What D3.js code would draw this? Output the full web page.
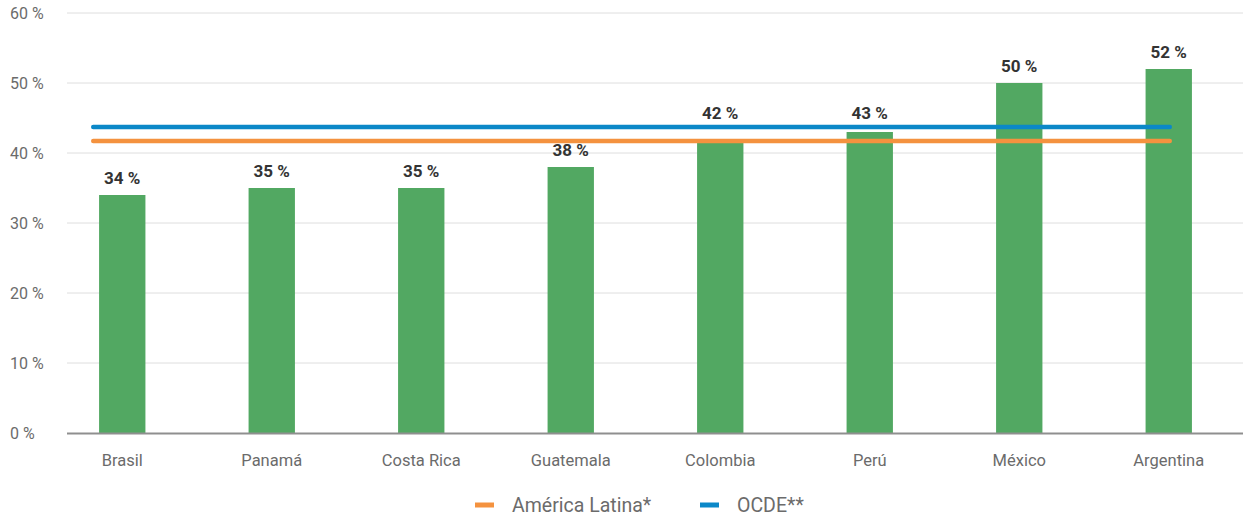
<!DOCTYPE html>
<html>
<head>
<meta charset="utf-8">
<script src="https://cdn.jsdelivr.net/npm/d3@7"></script>
<style>
  html, body { margin: 0; padding: 0; background: #fff; }
  svg { display: block; font-family: "Roboto", "DejaVu Sans", sans-serif; }
</style>
</head>
<body>
<svg id="chart" width="1243" height="517"></svg>
<script>
// Country shares (%)
const countries = ["Brasil", "Panamá", "Costa Rica", "Guatemala", "Colombia", "Perú", "México", "Argentina"];
const values = [34, 35, 35, 38, 42, 43, 50, 52];

// Reference averages (%)
const refNames = ["América Latina*", "OCDE**"];
const refValues = [41.7, 43.7];
const refColors = ["#f4923f", "#0b88c8"];

const yTicks = [0, 10, 20, 30, 40, 50, 60];

const svg = d3.select("#chart");
const gridLeft = 67, gridRight = 1243;
const yTop = 13, yBottom = 433;

const x = d3.scaleBand().domain(countries).range([47.5, 1243.5]).paddingInner(0.69).paddingOuter(0.345);
const y = d3.scaleLinear().domain([0, 60]).range([yBottom, yTop]);

// Horizontal gridlines
svg.append("g").selectAll("line").data(yTicks.filter(t => t > 0)).join("line")
  .attr("x1", gridLeft).attr("x2", gridRight)
  .attr("y1", d => y(d)).attr("y2", d => y(d))
  .attr("stroke", "#dedede").attr("stroke-width", 1);

// Y tick labels
svg.append("g").selectAll("text").data(yTicks).join("text")
  .attr("x", 10).attr("y", d => y(d) + 6)
  .attr("font-size", 16).attr("fill", "#6b6b6b")
  .text(d => d + " %");

// Bars
svg.append("g").selectAll("rect").data(values).join("rect")
  .attr("x", (d, i) => x(countries[i]))
  .attr("width", x.bandwidth())
  .attr("y", d => y(d))
  .attr("height", d => yBottom - y(d))
  .attr("fill", "#52a862");

// Value labels; a bar ending inside the band of average lines gets its
// label lifted above the upper line when it would otherwise touch it
const upperY = y(d3.max(refValues));
const lowerY = y(d3.min(refValues));
function labelY(v) {
  const top = y(v);
  const base = top - 11;
  if (top >= upperY && top <= lowerY + 2 && base + 3 > upperY - 4) return upperY - 8;
  return base;
}
svg.append("g").selectAll("text").data(values).join("text")
  .attr("x", (d, i) => x(countries[i]) + x.bandwidth() / 2)
  .attr("y", d => labelY(d))
  .attr("text-anchor", "middle")
  .attr("font-size", 17).attr("font-weight", "bold").attr("fill", "#333")
  .text(d => d + " %");

// Baseline
svg.append("line")
  .attr("x1", gridLeft).attr("x2", gridRight)
  .attr("y1", yBottom + 0.5).attr("y2", yBottom + 0.5)
  .attr("stroke", "#8f8f8f").attr("stroke-width", 2);

// Category labels
svg.append("g").selectAll("text").data(countries).join("text")
  .attr("x", d => x(d) + x.bandwidth() / 2)
  .attr("y", 466)
  .attr("text-anchor", "middle")
  .attr("font-size", 16.5).attr("fill", "#6b6b6b")
  .text(d => d);

// Average lines spanning the category range
const x0 = x(countries[0]) + x.bandwidth() / 2 - 29;
const x1 = x(countries[countries.length - 1]) + x.bandwidth() / 2 + 1;
svg.append("g").selectAll("line").data(refValues).join("line")
  .attr("x1", x0).attr("x2", x1)
  .attr("y1", d => y(d)).attr("y2", d => y(d))
  .attr("stroke", (d, i) => refColors[i])
  .attr("stroke-width", 4.5)
  .attr("stroke-linecap", "round");

// Legend
const legendX = [475, 700];
const lg = svg.append("g").selectAll("g").data(refNames).join("g")
  .attr("transform", (d, i) => `translate(${legendX[i]},505)`);
lg.append("line").attr("x1", 0).attr("x2", 19).attr("y1", 0).attr("y2", 0)
  .attr("stroke", (d, i) => refColors[i]).attr("stroke-width", 5);
lg.append("text").attr("x", 37).attr("y", 7)
  .attr("font-size", 19.5).attr("fill", "#6b6b6b")
  .text(d => d);
</script>
</body>
</html>
